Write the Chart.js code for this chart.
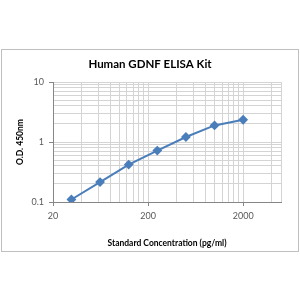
<!DOCTYPE html>
<html>
<head>
<meta charset="utf-8">
<script src="https://cdn.jsdelivr.net/npm/chart.js@4/dist/chart.umd.min.js"></script>
<style>
html,body{margin:0;padding:0;background:#fff;}
#wrap{position:absolute;left:0;top:0;width:300px;height:300px;}
</style>
</head>
<body>
<div id="wrap"><canvas id="c" width="300" height="300"></canvas></div>
<script>
const concentrations = [31.25, 62.5, 125, 250, 500, 1000, 2000];
const odValues = [0.11, 0.215, 0.42, 0.72, 1.21, 1.89, 2.35];
const xTickValues = [20,40,60,80,100,120,140,160,180,200,400,600,800,1000,1200,1400,1600,1800,2000,4000,5000];
const xTickLabels = {20:'20', 200:'200', 2000:'2000'};
const yTickValues = [0.1,0.2,0.3,0.4,0.5,0.6,0.7,0.8,0.9,1,2,3,4,5,6,7,8,9,10];
const yTickLabels = {0.1:'0.1', 1:'1', 10:'10'};
const chartTitle = 'Human GDNF ELISA Kit';
const xTitle = 'Standard Concentration (pg/ml)';
const yTitle = 'O.D. 450nm';

const fontFam = 'Lato, "Open Sans", sans-serif';

const frame = {
  id: 'frame',
  beforeDraw(chart) {
    const ctx = chart.ctx;
    ctx.save();
    ctx.fillStyle = '#fff';
    ctx.fillRect(0, 0, 300, 300);
    ctx.strokeStyle = '#bfbfbf';
    ctx.lineWidth = 1;
    ctx.strokeRect(1.5, 49.5, 297, 202);
    ctx.fillStyle = '#000';
    ctx.font = 'bold 11.5px ' + fontFam;
    ctx.textAlign = 'center';
    ctx.textBaseline = 'middle';
    ctx.fillText(chartTitle, 150, 64);
    ctx.restore();
  }
};

new Chart(document.getElementById('c'), {
  type: 'line',
  data: {
    datasets: [{
      data: concentrations.map((x, i) => ({x: x, y: odValues[i]})),
      borderColor: '#4a7ebb',
      backgroundColor: '#4a7ebb',
      borderWidth: 2,
      pointStyle: 'rectRot',
      pointRadius: 3.5,
      tension: 0,
      fill: false
    }]
  },
  options: {
    responsive: false,
    animation: false,
    events: [],
    layout: {padding: {left: 2, right: 19, top: 82, bottom: 50}},
    plugins: {
      legend: {display: false},
      tooltip: {enabled: false},
      title: {display: false}
    },
    scales: {
      x: {
        type: 'logarithmic',
        min: 20,
        max: 5000,
        afterBuildTicks(scale) { scale.ticks = xTickValues.map(v => ({value: v})); },
        afterFit(scale) { scale.height = 48; },
        ticks: {
          autoSkip: false,
          maxRotation: 0,
          padding: 5,
          color: '#595959',
          font: {family: fontFam, size: 9},
          callback: (v) => xTickLabels[v] || ''
        },
        grid: {
          color: '#d4d4d4',
          lineWidth: 1,
          tickLength: 4,
          tickColor: (c) => (c.tick && xTickLabels[c.tick.value]) ? '#868686' : 'rgba(0,0,0,0)'
        },
        border: {color: '#868686'},
        title: {
          display: true,
          text: xTitle,
          color: '#000',
          font: {family: fontFam, size: 8.5, weight: 'bold'},
          padding: {top: 0, bottom: 2}
        }
      },
      y: {
        type: 'logarithmic',
        min: 0.1,
        max: 10,
        afterBuildTicks(scale) { scale.ticks = yTickValues.map(v => ({value: v})); },
        afterFit(scale) { scale.width = 51; },
        ticks: {
          autoSkip: false,
          padding: 5,
          color: '#595959',
          font: {family: fontFam, size: 9},
          callback: (v) => yTickLabels[v] || ''
        },
        grid: {
          color: '#d4d4d4',
          lineWidth: 1,
          tickLength: 4,
          tickColor: (c) => (c.tick && yTickLabels[c.tick.value]) ? '#868686' : 'rgba(0,0,0,0)'
        },
        border: {color: '#868686'},
        title: {
          display: true,
          text: yTitle,
          color: '#000',
          font: {family: fontFam, size: 8.5, weight: 'bold'},
          padding: {top: 13, bottom: 0}
        }
      }
    }
  },
  plugins: [frame]
});
</script>
</body>
</html>
